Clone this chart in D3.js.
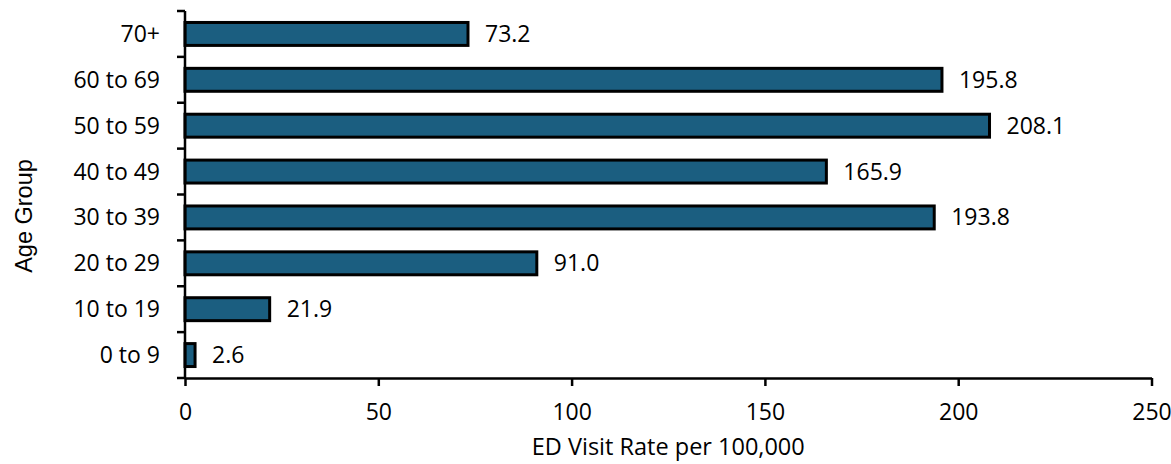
<!DOCTYPE html>
<html><head><meta charset="utf-8">
<script src="https://cdn.jsdelivr.net/npm/d3@7"></script>
<style>body{margin:0;background:#fff}svg{display:block}</style>
</head><body>
<script>
const categories = ["70+","60 to 69","50 to 59","40 to 49","30 to 39","20 to 29","10 to 19","0 to 9"];
const values = [73.2,195.8,208.1,165.9,193.8,91.0,21.9,2.6];
const xTicks = [0,50,100,150,200,250];
const xTitle = "ED Visit Rate per 100,000";
const yTitle = "Age Group";

const W=1171,H=464;
const m={left:185,right:20,top:11,bottom:86};
const svg=d3.select("body").append("svg").attr("width",W).attr("height",H);
const x=d3.scaleLinear().domain([0,250]).range([m.left,1151.5]);
const y=d3.scaleBand().domain(categories).range([m.top,378]).paddingInner(0.5).paddingOuter(0.25);
const font="'Open Sans', sans-serif";
const fs=23;

svg.append("g").selectAll("rect").data(values).join("rect")
 .attr("x",x(0)).attr("y",(d,i)=>y(categories[i]))
 .attr("width",d=>x(d)-x(0)).attr("height",y.bandwidth())
 .attr("fill","#1b5e80").attr("stroke","#000").attr("stroke-width",3);

svg.append("g").selectAll("text").data(values).join("text")
 .attr("x",d=>x(d)+17).attr("y",(d,i)=>y(categories[i])+y.bandwidth()/2)
 .attr("dy","0.35em").attr("font-family",font).attr("font-size",fs).attr("fill","#000")
 .text(d=>d.toFixed(1));

// y axis
const band=(378-m.top)/categories.length;
const yb=svg.append("g");
yb.append("line").attr("x1",x(0)).attr("x2",x(0)).attr("y1",m.top).attr("y2",378).attr("stroke","#000").attr("stroke-width",2.5);
yb.selectAll("line.t").data(d3.range(categories.length+1)).join("line").attr("class","t")
 .attr("x1",177).attr("x2",x(0)).attr("y1",i=>m.top+i*band).attr("y2",i=>m.top+i*band).attr("stroke","#000").attr("stroke-width",2.5);
yb.selectAll("text").data(categories).join("text")
 .attr("x",160).attr("y",d=>y(d)+y.bandwidth()/2).attr("dy","0.35em").attr("text-anchor","end")
 .attr("font-family",font).attr("font-size",fs).text(d=>d);

// x axis
const xa=svg.append("g").attr("transform","translate(0,378)")
 .call(d3.axisBottom(x).tickValues(xTicks).tickSize(8).tickSizeOuter(0).tickPadding(0));
xa.select(".domain").attr("stroke-width",2.5);
xa.selectAll(".tick line").attr("stroke-width",2.5);
xa.selectAll("text").attr("y",42).attr("dy",null).attr("font-family",font).attr("font-size",fs).attr("fill","#000");

svg.append("text").attr("x",(x(0)+x(250))/2).attr("y",455).attr("text-anchor","middle")
 .attr("font-family",font).attr("font-size",23.5).text(xTitle);
svg.append("text").attr("transform","translate(32,216) rotate(-90)").attr("text-anchor","middle")
 .attr("font-family","'Liberation Sans', Arial, sans-serif").attr("font-size",23.5).text(yTitle);
</script>
</body></html>
